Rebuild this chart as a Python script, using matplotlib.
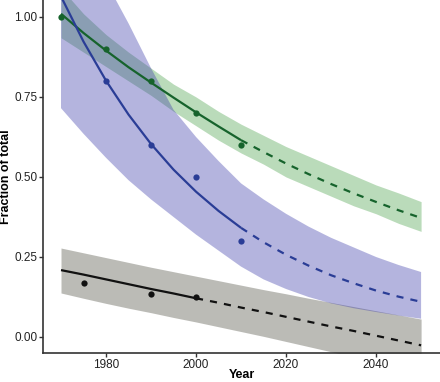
import matplotlib
matplotlib.use("Agg")
import matplotlib.pyplot as plt

plt.rcParams["font.family"] = ["Liberation Sans", "DejaVu Sans"]

# observed points
green_years = [1970, 1980, 1990, 2000, 2010]
green_pts = [1.00, 0.90, 0.80, 0.70, 0.60]
blue_years = [1980, 1990, 2000, 2010]
blue_pts = [0.80, 0.60, 0.50, 0.30]
black_years = [1975, 1990, 2000]
black_pts = [0.17, 0.135, 0.125]

# fitted curves and ribbons, read at 5-year steps
fit_years = [1970, 1975, 1980, 1985, 1990, 1995, 2000, 2005, 2010,
             2015, 2020, 2025, 2030, 2035, 2040, 2045, 2050]
green_fit = [1.010, 0.950, 0.895, 0.843, 0.795, 0.748, 0.702, 0.658, 0.615,
             0.578, 0.542, 0.509, 0.478, 0.449, 0.422, 0.396, 0.372]
green_lo = [0.935, 0.890, 0.845, 0.800, 0.755, 0.705, 0.660, 0.615, 0.575,
            0.540, 0.500, 0.470, 0.440, 0.410, 0.385, 0.355, 0.330]
green_hi = [1.090, 1.010, 0.945, 0.890, 0.840, 0.790, 0.750, 0.705, 0.665,
            0.630, 0.595, 0.565, 0.535, 0.505, 0.475, 0.450, 0.423]
blue_fit = [1.064, 0.923, 0.801, 0.695, 0.603, 0.523, 0.454, 0.394, 0.341,
            0.296, 0.257, 0.223, 0.193, 0.168, 0.145, 0.126, 0.110]
blue_lo = [0.715, 0.635, 0.560, 0.490, 0.430, 0.375, 0.320, 0.270, 0.220,
           0.180, 0.150, 0.125, 0.105, 0.090, 0.078, 0.067, 0.057]
blue_hi = [1.450, 1.250, 1.110, 0.980, 0.840, 0.710, 0.625, 0.550, 0.480,
           0.430, 0.385, 0.345, 0.310, 0.280, 0.250, 0.225, 0.203]
black_fit = [0.209, 0.195, 0.180, 0.165, 0.150, 0.136, 0.121, 0.107, 0.092,
             0.078, 0.063, 0.048, 0.033, 0.019, 0.004, -0.011, -0.026]
black_lo = [0.1375, 0.121, 0.105, 0.090, 0.076, 0.061, 0.047, 0.032, 0.017,
            0.002, -0.014, -0.030, -0.046, -0.063, -0.080, -0.098, -0.116]
black_hi = [0.278, 0.263, 0.248, 0.233, 0.218, 0.204, 0.190, 0.176, 0.162,
            0.148, 0.135, 0.121, 0.108, 0.095, 0.082, 0.069, 0.056]

groups = [
    # fit, lo, hi, points x, points y, last observed year, line colour, fill base, alpha
    (black_fit, black_lo, black_hi, black_years, black_pts, 2000, "#111111", "#78786e", 0.5),
    (green_fit, green_lo, green_hi, green_years, green_pts, 2010, "#16632c", "#3a9a3a", 0.35),
    (blue_fit, blue_lo, blue_hi, blue_years, blue_pts, 2010, "#2a3d96", "#3c3caa", 0.38),
]

fig = plt.figure(figsize=(4.4, 3.82), dpi=100)
ax = fig.add_axes([43 / 440, 29 / 382, 1 - 43 / 440, 1 - 29 / 382])

for fit, lo, hi, px, py, last, lc, fc, a in groups:
    ax.fill_between(fit_years, lo, hi, color=fc, alpha=a, linewidth=0)
for fit, lo, hi, px, py, last, lc, fc, a in groups:
    i = fit_years.index(last)
    ax.plot(fit_years[:i + 1], fit[:i + 1], color=lc, linewidth=1.6, solid_capstyle="butt")
    ax.plot(fit_years[i:], fit[i:], color=lc, linewidth=1.6, dashes=(3.2, 3.2))
    ax.plot(px, py, "o", color=lc, markersize=4.5, markeredgewidth=0)

ax.set_xlim(1966, 2054.2)
ax.set_ylim(-0.05, 1.053)
ax.set_xticks([1980, 2000, 2020, 2040])
ax.set_yticks([0.0, 0.25, 0.5, 0.75, 1.0])
ax.set_yticklabels(["0.00", "0.25", "0.50", "0.75", "1.00"])

for s in ["top", "right"]:
    ax.spines[s].set_visible(False)
for s in ["left", "bottom"]:
    ax.spines[s].set_color("#333333")
    ax.spines[s].set_linewidth(1.2)
ax.tick_params(length=3, width=1, color="#333333", labelcolor="#222222",
               labelsize=8.5, pad=1)

ax.set_xlabel("Year", fontsize=9, fontweight="bold", labelpad=-1)
ax.set_ylabel("Fraction of total", fontsize=9, fontweight="bold", labelpad=2)

fig.savefig("out.png", dpi=100)
